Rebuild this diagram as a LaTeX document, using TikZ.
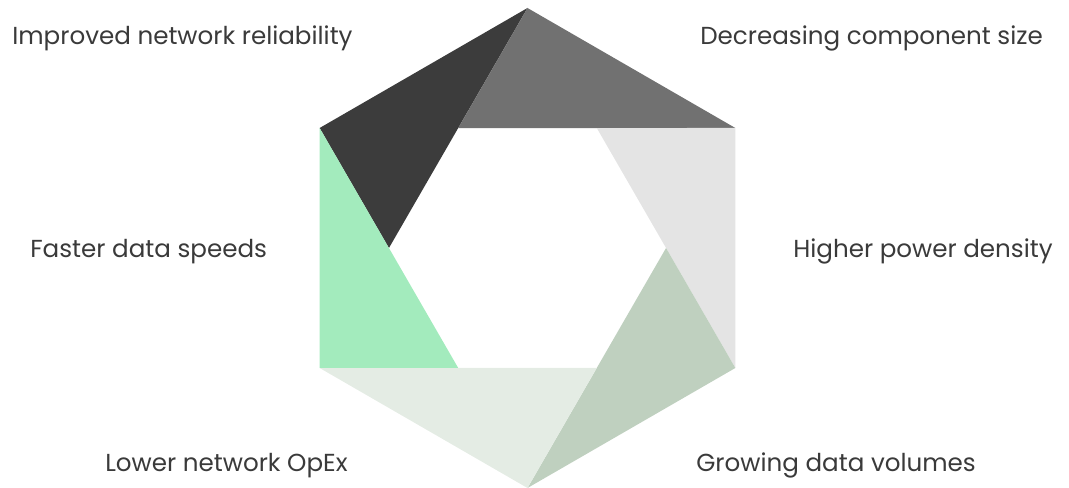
\documentclass[tikz,border=0pt]{standalone}
\usepackage{fontspec}
\setmainfont{Poppins}

\definecolor{petaldark}{HTML}{3C3C3C}
\definecolor{petalmid}{HTML}{717171}
\definecolor{petallight}{HTML}{E4E4E4}
\definecolor{petalsage}{HTML}{BFD0BF}
\definecolor{petalpale}{HTML}{E4ECE4}
\definecolor{petalmint}{HTML}{A3EBBD}
\definecolor{labeltext}{HTML}{3A3A3A}

\tikzset{
  driver/.style={anchor=base west, text=labeltext, inner sep=0pt,
    font=\fontsize{14}{16}\selectfont}
}

\begin{document}
\begin{tikzpicture}[scale=1.0]
  % Page frame
  \useasboundingbox (-10.55,-4.8) rectangle (10.83,4.96);

  % Aperture blades: two outer corners and one inner corner each
  \foreach \a/\c in {150/petaldark, 90/petalmid, 30/petallight,
                     -30/petalsage, -90/petalpale, 210/petalmint}
    \fill[\c] (\a:4.8) -- (\a-60:4.8) -- (\a+30:2.771) -- cycle;

  % Drivers, left side
  \node[driver] (reliability) at (-10.31,4.06) {Improved network reliability};
  \node[driver] (speeds)      at (-9.95,-0.2)  {Faster data speeds};
  \node[driver] (opex)        at (-8.45,-4.48) {Lower network OpEx};

  % Drivers, right side
  \node[driver] (size)        at (3.45,4.06)   {Decreasing component size};
  \node[driver] (power)       at (5.31,-0.2)   {Higher power density};
  \node[driver] (volumes)     at (3.37,-4.48)  {Growing data volumes};

\end{tikzpicture}
\end{document}
